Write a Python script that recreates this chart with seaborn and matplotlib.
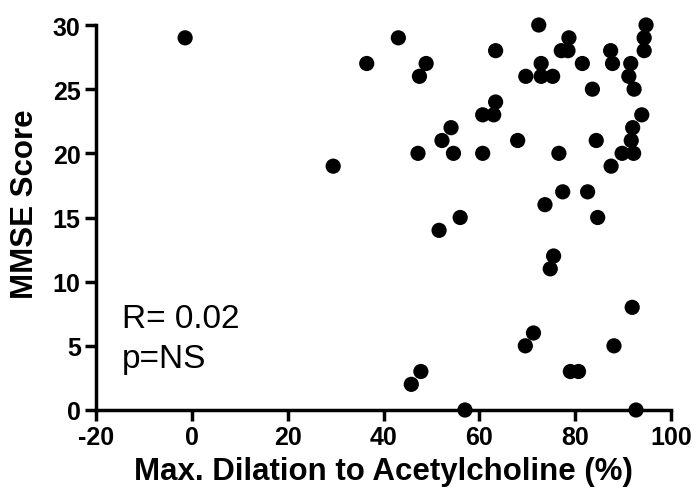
import matplotlib
matplotlib.use("Agg")
import matplotlib.pyplot as plt
import seaborn as sns
import pandas as pd

dilation = [-1.4, 29.5, 36.5, 43.1, 48.9, 47.5, 63.4, 72.4, 78.7, 77.1, 78.5,
            81.5, 87.4, 87.8, 94.8, 94.4, 94.4, 91.6, 91.2, 92.3, 72.9, 69.7,
            72.9, 75.3, 83.6, 63.4, 60.7, 63.0, 54.1, 52.2, 47.2, 54.6, 60.7,
            68.0, 76.6, 84.4, 93.9, 92.0, 91.7, 89.8, 92.2, 87.5, 77.4, 82.6,
            73.7, 84.7, 56.0, 51.6, 75.5, 74.8, 91.9, 71.3, 69.6, 88.1, 47.8,
            45.8, 79.0, 80.7, 57.0, 92.7]
mmse = [29, 19, 27, 29, 27, 26, 28, 30, 29, 28, 28,
        27, 28, 27, 30, 29, 28, 27, 26, 25, 27, 26,
        26, 26, 25, 24, 23, 23, 22, 21, 20, 20, 20,
        21, 20, 21, 23, 22, 21, 20, 20, 19, 17, 17,
        16, 15, 15, 14, 12, 11, 8, 6, 5, 5, 3,
        2, 3, 3, 0, 0]
x_ticks = [-20, 0, 20, 40, 60, 80, 100]
y_ticks = [0, 5, 10, 15, 20, 25, 30]

df = pd.DataFrame({"x": dilation, "y": mmse})

sns.set_theme(style="ticks")
plt.rcParams["font.family"] = ["Liberation Sans", "DejaVu Sans"]

fig = plt.figure(figsize=(6.98, 5.02), dpi=100)
ax = fig.add_axes([96/698, 91/502, 575/698, 385/502])

sns.scatterplot(data=df, x="x", y="y", ax=ax, color="black", s=120,
                edgecolor="none", linewidth=0, clip_on=False, zorder=3)

ax.set_xlim(-20, 100)
ax.set_ylim(0, 30)
ax.set_xticks(x_ticks)
ax.set_yticks(y_ticks)
ax.set_xticklabels([str(t) for t in x_ticks], fontsize=18, fontweight="bold")
ax.set_yticklabels([str(t) for t in y_ticks], fontsize=18, fontweight="bold")
for s in ["top", "right"]:
    ax.spines[s].set_visible(False)
for s in ["left", "bottom"]:
    ax.spines[s].set_linewidth(2.5)
    ax.spines[s].set_color("black")
ax.tick_params(axis="both", direction="out", length=8, width=2.5,
               color="black", pad=3, labelcolor="black")

ax.set_xlabel("Max. Dilation to Acetylcholine (%)", fontsize=22.5,
              fontweight="bold", labelpad=5, color="black")
ax.set_ylabel("MMSE Score", fontsize=22.5, fontweight="bold", color="black")
ax.yaxis.set_label_coords(-0.097, 0.538)

ax.text(-14.6, 6.47, "R= 0.02", fontsize=24, va="baseline", ha="left",
        color="black")
ax.text(-14.6, 3.35, "p=NS", fontsize=24, va="baseline", ha="left",
        color="black")

fig.savefig("out.png", dpi=100)
